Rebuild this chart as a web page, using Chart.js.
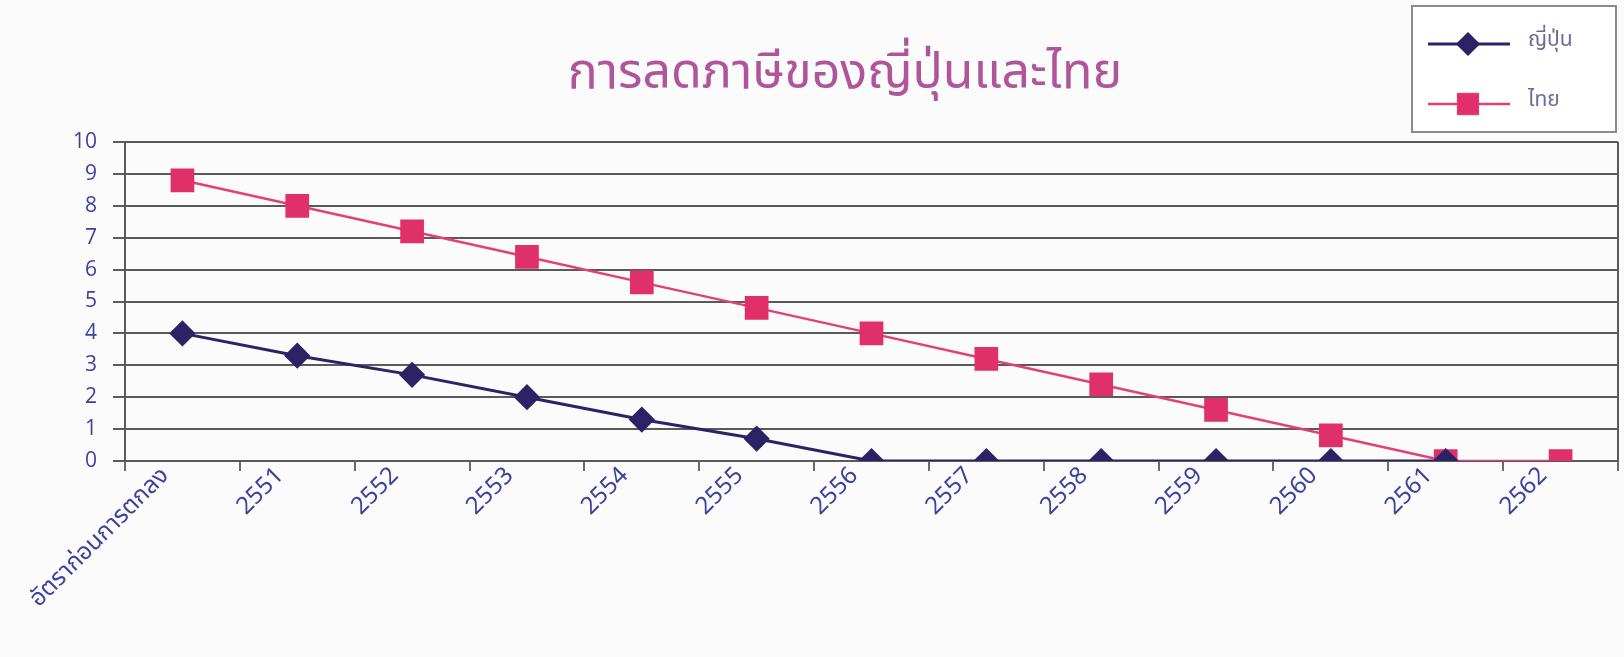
<!DOCTYPE html>
<html>
<head>
<meta charset="utf-8">
<script src="https://cdn.jsdelivr.net/npm/chart.js@4.4.1/dist/chart.umd.min.js"></script>
<style>
  html, body { margin: 0; padding: 0; background: #fbfbfc; overflow: hidden; }
</style>
</head>
<body>
<canvas id="taxchart" width="1624" height="657"></canvas>
<script>
var years = ['อัตราก่อนการตกลง', '2551', '2552', '2553', '2554', '2555', '2556', '2557', '2558', '2559', '2560', '2561', '2562'];
var japanRates = [4.0, 3.3, 2.7, 2.0, 1.3, 0.7, 0, 0, 0, 0, 0, 0, null];
var thaiRates = [8.8, 8.0, 7.2, 6.4, 5.6, 4.8, 4.0, 3.2, 2.4, 1.6, 0.8, 0, 0];
var yTicks = [0, 1, 2, 3, 4, 5, 6, 7, 8, 9, 10];
var chartTitle = 'การลดภาษีของญี่ปุ่นและไทย';

var thaiFont = "'Noto Sans Thai', 'Noto Sans', 'DejaVu Sans', sans-serif";
var labelBlue = '#3f3f9c';

// title, right frame edge and boxed legend (entries taken from the datasets)
var decorations = {
  id: 'decorations',
  afterDraw: function (chart) {
    var ctx = chart.ctx;
    var area = chart.chartArea;
    ctx.save();

    ctx.fillStyle = '#b0559a';
    ctx.font = '50px ' + thaiFont;
    ctx.textAlign = 'center';
    ctx.textBaseline = 'middle';
    ctx.fillText(chartTitle, 845, 78);

    ctx.strokeStyle = '#5a5a5a';
    ctx.lineWidth = 2;
    ctx.beginPath();
    ctx.moveTo(area.right, area.top);
    ctx.lineTo(area.right, area.bottom);
    ctx.stroke();

    var bx = 1412, by = 6, bw = 204, bh = 126;
    ctx.fillStyle = '#ffffff';
    ctx.fillRect(bx, by, bw, bh);
    ctx.strokeStyle = '#8a8a96';
    ctx.lineWidth = 2;
    ctx.strokeRect(bx, by, bw, bh);

    chart.data.datasets.forEach(function (ds, i) {
      var y = by + 38 + i * 60;
      ctx.strokeStyle = ds.borderColor;
      ctx.lineWidth = ds.borderWidth;
      ctx.beginPath();
      ctx.moveTo(bx + 16, y);
      ctx.lineTo(bx + 98, y);
      ctx.stroke();
      Chart.helpers.drawPoint(ctx, {
        pointStyle: ds.pointStyle,
        radius: ds.pointRadius - 1,
        borderWidth: 1
      }, bx + 56, y);
      ctx.fillStyle = ds.pointBackgroundColor;
      ctx.strokeStyle = ds.pointBorderColor;
      ctx.fill();
      ctx.fillStyle = '#6a6a9a';
      ctx.font = '21px ' + thaiFont;
      ctx.textBaseline = 'middle';
      ctx.textAlign = 'left';
      ctx.fillText(ds.label, bx + 116, y - 2);
    });
    ctx.restore();
  }
};

var ctx = document.getElementById('taxchart');
var myChart = new Chart(ctx, {
  type: 'line',
  data: {
    labels: years,
    datasets: [{
      label: 'ญี่ปุ่น',
      data: japanRates,
      borderColor: '#2c2266',
      backgroundColor: '#2c2266',
      pointBackgroundColor: '#2c2266',
      pointBorderColor: '#2c2266',
      borderWidth: 3,
      pointStyle: 'rectRot',
      pointRadius: 11,
      pointHoverRadius: 11,
      tension: 0
    },
    {
      label: 'ไทย',
      data: thaiRates,
      borderColor: '#e2407a',
      backgroundColor: '#e0306a',
      pointBackgroundColor: '#e0306a',
      pointBorderColor: '#e0306a',
      borderWidth: 2.5,
      pointStyle: 'rect',
      pointRadius: 15,
      pointHoverRadius: 15,
      tension: 0
    }]
  },
  options: {
    responsive: false,
    animation: false,
    layout: {
      autoPadding: false,
      padding: { left: 20, right: 6, top: 142, bottom: 0 }
    },
    plugins: {
      legend: { display: false },
      tooltip: { enabled: false },
      title: { display: false }
    },
    scales: {
      x: {
        offset: true,
        grid: {
          offset: true,
          drawOnChartArea: false,
          drawTicks: true,
          tickLength: 10,
          color: '#6a6a6a',
          lineWidth: 2
        },
        border: { display: true, color: '#5a5a5a', width: 2 },
        ticks: {
          color: labelBlue,
          minRotation: 45,
          maxRotation: 45,
          autoSkip: false,
          padding: -8,
          labelOffset: -16,
          font: { family: thaiFont, size: 24 }
        },
        afterFit: function (scale) { scale.height = 196; }
      },
      y: {
        min: 0,
        max: 10,
        afterBuildTicks: function (scale) {
          scale.ticks = yTicks.map(function (v) { return { value: v }; });
        },
        grid: {
          color: '#5a5a5a',
          lineWidth: 2,
          drawTicks: true,
          tickLength: 12
        },
        border: { display: true, color: '#5a5a5a', width: 2 },
        ticks: {
          color: labelBlue,
          padding: 16,
          font: { family: "'Open Sans', sans-serif", size: 21 }
        },
        afterFit: function (scale) { scale.width = 105; }
      }
    }
  },
  plugins: [decorations]
});
</script>
</body>
</html>
